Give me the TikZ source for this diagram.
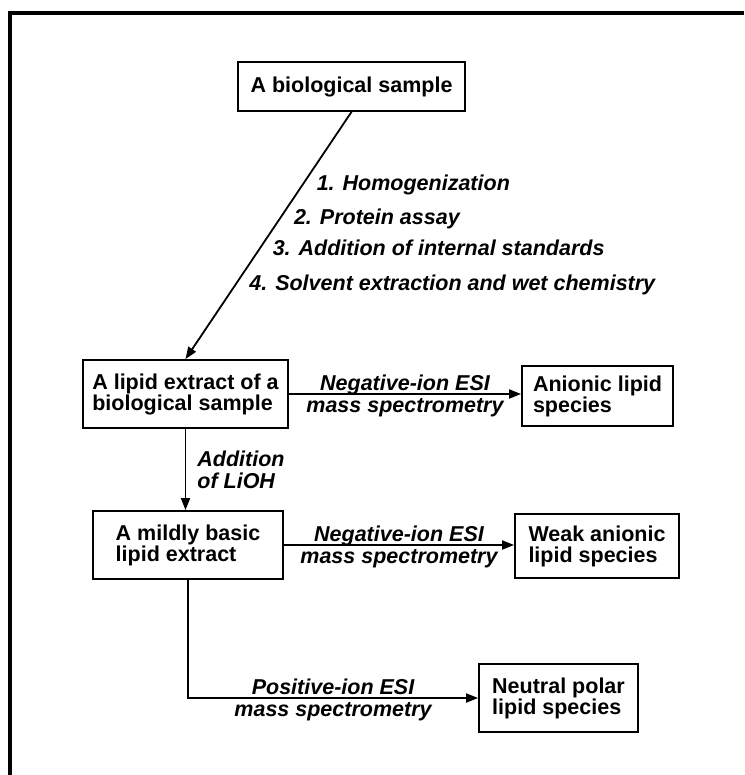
\documentclass[tikz,border=0pt]{standalone}
\usepackage{fontspec}
\setmainfont{Liberation Sans}
\usetikzlibrary{arrows.meta}
\tikzset{
    box/.style={draw, align=left, inner sep=0pt, font=\fontsize{21.5}{21}\selectfont\bfseries},
    lbl/.style={inner sep=0pt, font=\fontsize{21.5}{22}\selectfont\bfseries\itshape},
}
\begin{document}
\begin{tikzpicture}[x=1pt, y=-1pt, >={Triangle[length=12pt,width=9pt]}, line width=1.8pt]
    \useasboundingbox (0,0) rectangle (744,775);
    \draw[line width=4pt](10,775)--(10,13)--(744,13);
    \node[box, minimum width=227pt, minimum height=49pt](b1) at (351.5,86.5){A biological sample};
    \node[box, minimum width=205pt, minimum height=68pt](b2) at (185.5,394){A lipid extract of a\\biological sample};
    \node[box, minimum width=151pt, minimum height=60pt](b3) at (597.5,396){Anionic lipid\\species};
    \node[box, minimum width=190pt, minimum height=68pt](b4) at (188,545){A mildly basic\\lipid extract};
    \node[box, minimum width=164pt, minimum height=64pt](b5) at (597,546){Weak anionic\\lipid species};
    \node[box, minimum width=159pt, minimum height=68pt](b6) at (558.5,698){Neutral polar\\lipid species};
    \draw[->](b1.south)--(b2.north);
\foreach \p/\t in {.317/1. Homogenization, .454/2. Protein assay, .582/3. Addition of internal standards, .723/4. Solvent extraction and wet chemistry}
{
    \path(b1.south)--(b2.north)node[lbl, pos=\p, anchor=base west, xshift=17pt]{\t};
}
    \draw[->](b2.east)--(b2.east -| b3.west)
        node[lbl, midway, anchor=base, yshift=4pt]{Negative-ion ESI}
        node[lbl, midway, anchor=base, yshift=-18pt]{mass spectrometry};
    \draw[->](b2.south)--(b2.south |- b4.north)
        node[lbl, midway, anchor=west, align=left, xshift=11pt]{Addition\\of LiOH};
    \draw[->](b4.east)--(b4.east -| b5.west)
        node[lbl, midway, anchor=base, yshift=4pt]{Negative-ion ESI}
        node[lbl, midway, anchor=base, yshift=-18pt]{mass spectrometry};
    \draw[->](b4.south)|-(b6.west)
        node[lbl, pos=.75, anchor=base, yshift=4pt]{Positive-ion ESI}
        node[lbl, pos=.75, anchor=base, yshift=-18pt]{mass spectrometry};
    \end{tikzpicture}
\end{document}
